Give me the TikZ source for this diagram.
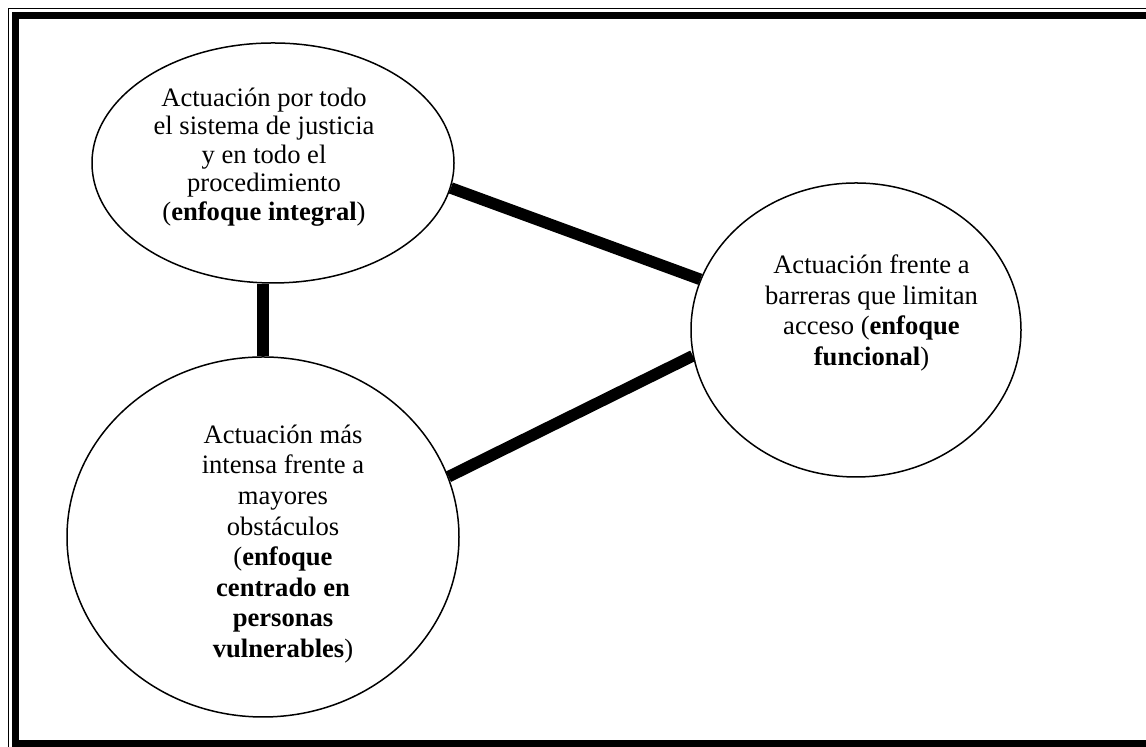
\documentclass[tikz,border=0pt]{standalone}
\usepackage{fontspec}
\setmainfont{Liberation Serif}
\usetikzlibrary{shapes.geometric}

\begin{document}
\begin{tikzpicture}[
    x=0.5pt, y=0.5pt,
    bubble/.style={draw, ellipse, line width=0.75pt, inner sep=0pt},
    bubbletext/.style={align=center, inner sep=0pt, font=\fontsize{13.3}{15.3}\selectfont},
    link/.style={line width=5.8pt},
    frame/.style={line width=#1},
]
\useasboundingbox (0,0) rectangle (1146,747);
\clip (0,0) rectangle (1146,747);
\draw[frame=0.6pt] (8.5,738.5) rectangle (1157,-3.5);
\draw[frame=3.5pt] (15.5,731.5) rectangle (1150,3.5);

\node[bubble, minimum width=181pt, minimum height=120pt,
      label={[bubbletext, font=\fontsize{13.3}{14.2}\selectfont, xshift=-4.5pt, yshift=3pt]center:Actuación por todo\\el sistema de justicia\\y en todo el\\procedimiento\\(\textbf{enfoque integral})}]
      (int) at (273,584) {};
\node[bubble, minimum width=165pt, minimum height=147pt,
      label={[bubbletext, xshift=7.75pt, yshift=8.5pt]center:Actuación frente a\\barreras que limitan\\acceso (\textbf{enfoque}\\\textbf{funcional})}]
      (fun) at (856,417) {};
\node[bubble, minimum width=196pt, minimum height=180pt,
      label={[bubbletext, xshift=10pt, yshift=-3.5pt]center:Actuación más\\intensa frente a\\mayores\\obstáculos\\(\textbf{enfoque}\\\textbf{centrado en}\\\textbf{personas}\\\textbf{vulnerables})}]
      (vul) at (263,210) {};

\draw[link] (int.-8) -- (fun.162);
\draw[link] (vul.18) -- (fun.189);
\draw[link] (vul.north) -- (vul.north |- int.south);
\end{tikzpicture}
\end{document}
